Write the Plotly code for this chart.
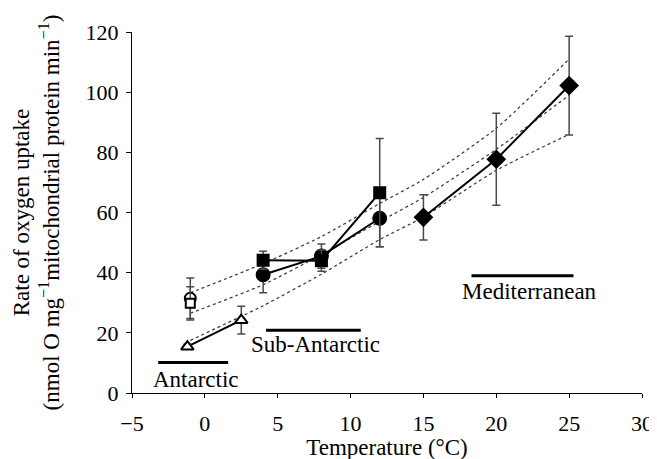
import plotly.graph_objects as go

# ---- data ----
tri_x = [-1.2, 2.5]
tri_y = [15.4, 24.2]
tri_err = [0.8, 4.6]

open_circ_x = [-1]
open_circ_y = [31.5]
open_circ_err = [6.7]

open_sq_x = [-1]
open_sq_y = [29.8]
open_sq_err = [5.5]

sq_x = [4, 8, 12]
sq_y = [44.1, 44.0, 66.6]
sq_err = [3.0, 3.5, 18.0]

circ_x = [4, 8, 12]
circ_y = [39.3, 45.5, 58.1]
circ_err = [6.0, 4.0, 9.5]

dia_x = [15, 20, 25]
dia_y = [58.4, 77.7, 102.2]
dia_err = [7.5, 15.3, 16.4]

fit_x = [-1, 4, 8, 12, 15, 20, 25]
fit_upper = [33.3, 43.0, 52.0, 63.0, 71.0, 88.0, 111.0]
fit_mid = [26.5, 36.0, 46.0, 57.0, 65.0, 81.0, 99.0]
fit_lower = [17.5, 29.0, 39.5, 51.0, 58.5, 74.0, 86.0]

region_names = ["Antarctic", "Sub-Antarctic", "Mediterranean"]
region_x0 = [-3.2, 4.2, 18.3]
region_x1 = [1.6, 10.7, 25.3]
region_y = [10.1, 20.9, 39.0]
region_label_x = [-0.6, 7.6, 22.3]
region_label_y = [4.4, 16.0, 33.6]

x_ticks = [-5, 0, 5, 10, 15, 20, 25, 30]
y_ticks = [0, 20, 40, 60, 80, 100, 120]

FONT = "'Liberation Serif', 'Times New Roman', Times, serif"
ERRC = "#4a4a4a"

fig = go.Figure()

# dotted regression + confidence curves
for fy in (fit_upper, fit_mid, fit_lower):
    fig.add_trace(go.Scatter(x=fit_x, y=fy, mode="lines",
                             line=dict(color="#333", width=1.2, dash="dot", shape="spline", smoothing=0.6),
                             showlegend=False, hoverinfo="skip"))

# region bars
for i, name in enumerate(region_names):
    fig.add_trace(go.Scatter(x=[region_x0[i], region_x1[i]], y=[region_y[i], region_y[i]],
                             mode="lines", line=dict(color="black", width=3),
                             showlegend=False, hoverinfo="skip"))
    fig.add_annotation(x=region_label_x[i], y=region_label_y[i], text=name, showarrow=False,
                       font=dict(family=FONT, size=23, color="black"), xanchor="center", yanchor="middle")

def series(x, y, err, symbol, size, fill, line_on=True):
    fig.add_trace(go.Scatter(
        x=x, y=y, mode="lines+markers" if line_on else "markers",
        line=dict(color="black", width=2),
        marker=dict(symbol=symbol, size=size, color=fill, line=dict(color="black", width=2)),
        error_y=dict(type="data", array=err, visible=True, color=ERRC, thickness=1.5, width=4),
        showlegend=False))

series(open_circ_x, open_circ_y, open_circ_err, "circle", 11, "white", False)
series(open_sq_x, open_sq_y, open_sq_err, "square", 9, "white", False)
series(tri_x, tri_y, tri_err, "triangle-up", 11, "white")
series(circ_x, circ_y, circ_err, "circle", 13, "black")
series(sq_x, sq_y, sq_err, "square", 11, "black")
series(dia_x, dia_y, dia_err, "diamond", 13, "black")

fig.update_layout(
    width=657, height=459,
    margin=dict(l=123, r=14, t=22, b=74),
    paper_bgcolor="white", plot_bgcolor="white",
    font=dict(family=FONT, size=22, color="black"),
    showlegend=False,
)
fig.update_xaxes(range=[-5, 30], tickvals=x_ticks, ticktext=[("−5" if v < 0 else str(v)) for v in x_ticks],
                 tickfont=dict(family=FONT, size=22), ticklabelstandoff=6,
                 showline=True, linecolor="black", linewidth=1.2, ticks="outside", ticklen=4,
                 tickcolor="black", showgrid=False, zeroline=False,
                 title=dict(text="Temperature (°C)", font=dict(family=FONT, size=23), standoff=2))
fig.update_yaxes(range=[0, 120], tickvals=y_ticks,
                 tickfont=dict(family=FONT, size=22), ticklabelstandoff=3,
                 showline=True, linecolor="black", linewidth=1.2, ticks="outside", ticklen=5,
                 tickcolor="black", showgrid=False, zeroline=False,
                 title=dict(text="Rate of oxygen uptake<br>(nmol O mg<sup>−1</sup>mitochondrial protein min<sup>−1</sup>)",
                            font=dict(family=FONT, size=23), standoff=19))

fig.write_html("out.html")
